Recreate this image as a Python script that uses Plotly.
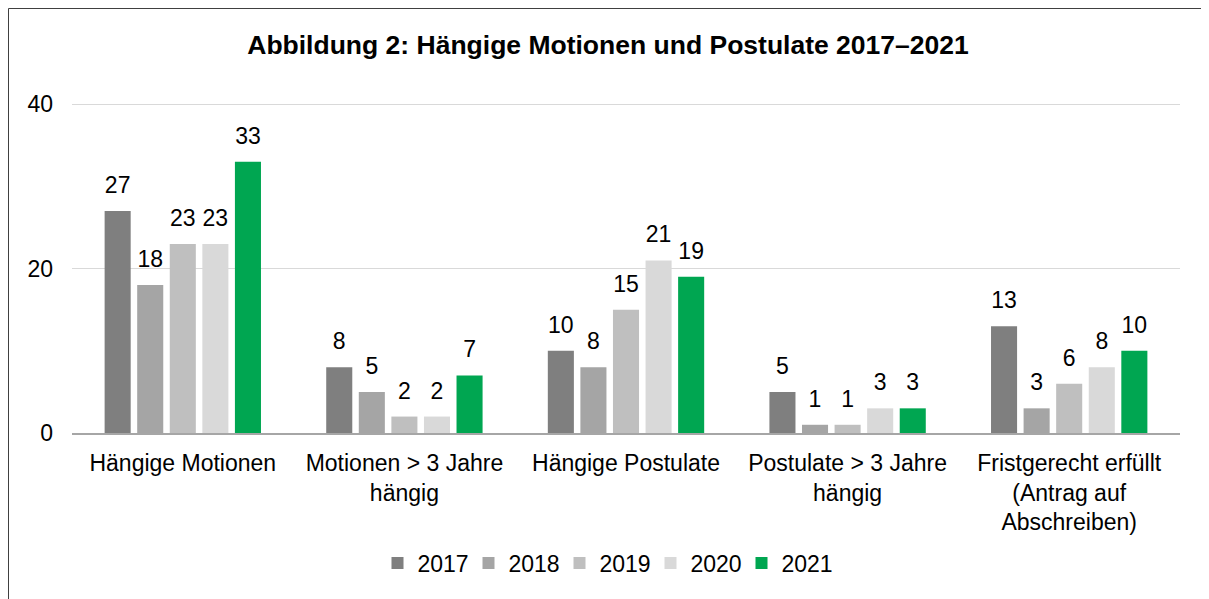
import plotly.graph_objects as go

categories = [
    "Hängige Motionen",
    "Motionen > 3 Jahre<br>hängig",
    "Hängige Postulate",
    "Postulate > 3 Jahre<br>hängig",
    "Fristgerecht erfüllt<br>(Antrag auf<br>Abschreiben)",
]
years = ["2017", "2018", "2019", "2020", "2021"]
v2017 = [27, 8, 10, 5, 13]
v2018 = [18, 5, 8, 1, 3]
v2019 = [23, 2, 15, 1, 6]
v2020 = [23, 2, 21, 3, 8]
v2021 = [33, 7, 19, 3, 10]
series = [v2017, v2018, v2019, v2020, v2021]
colors = ["#7f7f7f", "#a5a5a5", "#bfbfbf", "#d9d9d9", "#00a651"]

# page body adds an 8px offset, so layout is computed in figure coordinates
W, H = 1209, 599
ml, mr, mt, mb = 64, 37, 88, 174
pw, ph = W - ml - mr, H - mt - mb

fig = go.Figure()
for yr, vals, col in zip(years, series, colors):
    fig.add_trace(go.Bar(
        x=categories, y=vals, name=yr,
        marker=dict(color=col, line=dict(width=0)),
        hoverinfo="x+y+name",
    ))
# value labels, grouped the same way as the bars
for yr, vals in zip(years, series):
    fig.add_trace(go.Scatter(
        x=categories, y=vals, name=yr, mode="markers+text",
        text=[str(v) for v in vals], textposition="top center",
        textfont=dict(size=23, color="#000000"),
        marker=dict(size=18, opacity=0), showlegend=False,
        hoverinfo="skip", cliponaxis=False,
    ))

fig.update_layout(
    width=W, height=H,
    margin=dict(l=ml, r=mr, t=mt, b=mb, autoexpand=False),
    paper_bgcolor="white", plot_bgcolor="white",
    font=dict(family="Liberation Sans, Arial, sans-serif", size=23, color="#000000"),
    title=dict(text="<b>Abbildung 2: Hängige Motionen und Postulate 2017–2021</b>",
               x=600 / W, xanchor="center", y=1 - 37 / H, yanchor="middle",
               font=dict(size=26.5)),
    barmode="group", bargap=0.265, bargroupgap=0.2,
    scattermode="group", scattergap=0.265,
    showlegend=True,
    legend=dict(orientation="h", x=(597 - ml) / pw, xanchor="center",
                y=-(555 - (H - mb)) / ph, yanchor="middle", font=dict(size=23),
                itemwidth=30, entrywidth=46, entrywidthmode="pixels",
                traceorder="normal"),
    yaxis=dict(range=[0, 41], tickvals=[0, 20, 40], showgrid=True,
               gridcolor="#d9d9d9", gridwidth=1, zeroline=False,
               showline=False, ticks="", ticklabelstandoff=18,
               tickfont=dict(size=23), automargin=False),
    xaxis=dict(showline=True, linecolor="#a6a6a6", linewidth=2, ticks="",
               ticklabelstandoff=8, tickfont=dict(size=23), automargin=False),
    shapes=[dict(type="rect", xref="paper", yref="paper",
                 x0=-(ml - 0.5) / pw, x1=1 + (mr - 9.5) / pw,
                 y0=-(mb + 10) / ph, y1=1 + (mt - 0.5) / ph,
                 line=dict(color="#404040", width=1))],
)

fig.write_html("out.html")
